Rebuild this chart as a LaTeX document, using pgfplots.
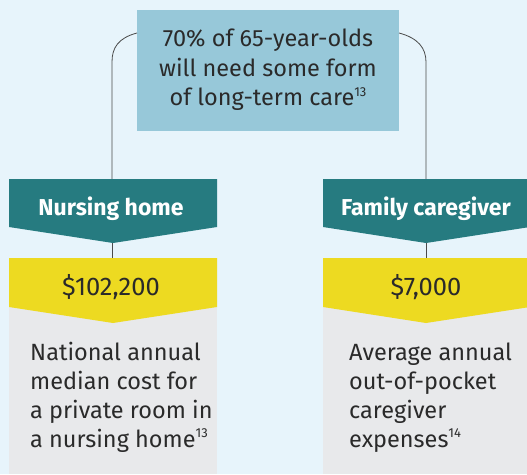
\documentclass[border=0pt]{standalone}
\usepackage{pgfplots}
\pgfplotsset{compat=1.18}
\usepackage{fontspec}
\setmainfont{Fira Sans}
\definecolor{bgblue}{HTML}{E7F4FB}
\definecolor{topbox}{HTML}{97C8D9}
\definecolor{teal}{HTML}{267B80}
\definecolor{ylw}{HTML}{EDDA21}
\definecolor{lgray}{HTML}{E8E9EB}
\definecolor{txt}{HTML}{2A2A2A}
\definecolor{conn}{HTML}{4A4A4A}
\newcommand{\fnref}[1]{\raisebox{0.75ex}{\fontsize{13}{13}\selectfont #1}}
\begin{document}
\begin{tikzpicture}
\begin{axis}[
    width=527pt, height=474pt, scale only axis,
    xmin=0, xmax=527, ymin=0, ymax=474,
    y dir=reverse,
    hide axis,
    /pgf/number format/.cd, fixed, precision=0, 1000 sep={,}, assume math mode=true,
]
% background and boxes
\fill[bgblue] (0,0) rectangle (527,474);
\fill[topbox] (137,10) rectangle (399,131);
\draw[conn, line width=0.8pt] (137,33) .. controls (118,38) and (112,48) .. (112,62) -- (112,180);
\draw[conn, line width=0.8pt] (399,33) .. controls (418,38) and (426,48) .. (426,62) -- (426,180);
\draw[conn, line width=0.8pt] (112,240) -- (112,259);
\draw[conn, line width=0.8pt] (426,240) -- (426,259);
% left column
\fill[lgray] (9,258) rectangle (217,474);
\fill[ylw] (9,258) -- (217,258) -- (217,307) -- (113,323) -- (9,307) -- cycle;
\fill[teal] (9,179) -- (217,179) -- (217,227) -- (113,243) -- (9,227) -- cycle;
% right column
\fill[lgray] (323,258) rectangle (530,474);
\fill[ylw] (323,258) -- (530,258) -- (530,307) -- (426,323) -- (323,307) -- cycle;
\fill[teal] (323,179) -- (530,179) -- (530,227) -- (426,243) -- (323,227) -- cycle;
% values
\addplot[draw=none, point meta=explicit,
    nodes near coords={\$\pgfmathprintnumber{\pgfplotspointmeta}},
    every node near coord/.append style={anchor=base, inner sep=0pt, text=txt,
        font=\fontsize{25.5}{28}\selectfont}]
    coordinates {(111,295) [102200] (426,295) [7000]};
\end{axis}
\begin{axis}[
    width=527pt, height=474pt, scale only axis,
    xmin=0, xmax=527, ymin=0, ymax=474,
    y dir=reverse, hide axis, clip=false,
]
\node[text=txt, align=center, font=\fontsize{23.5}{29.5}\selectfont] at (268,70)
    {70\% of 65-year-olds\\will need some form\\of long-term care\fnref{13}};
\node[text=white, anchor=base, font=\fontsize{23}{28}\bfseries] at (111,215) {\selectfont Nursing home};
\node[text=white, anchor=base, font=\fontsize{23}{28}\bfseries] at (426,215) {\selectfont Family caregiver};
\node[text=txt, anchor=base west, align=left, inner sep=0pt, font=\fontsize{23.5}{29}\selectfont] at (30,447)
    {National annual\\median cost for\\a private room in\\a nursing home\fnref{13}};
\node[text=txt, anchor=base west, align=left, inner sep=0pt, font=\fontsize{23.5}{29}\selectfont] at (349,447)
    {Average annual\\out-of-pocket\\caregiver\\expenses\fnref{14}};
\end{axis}
\end{tikzpicture}
\end{document}
